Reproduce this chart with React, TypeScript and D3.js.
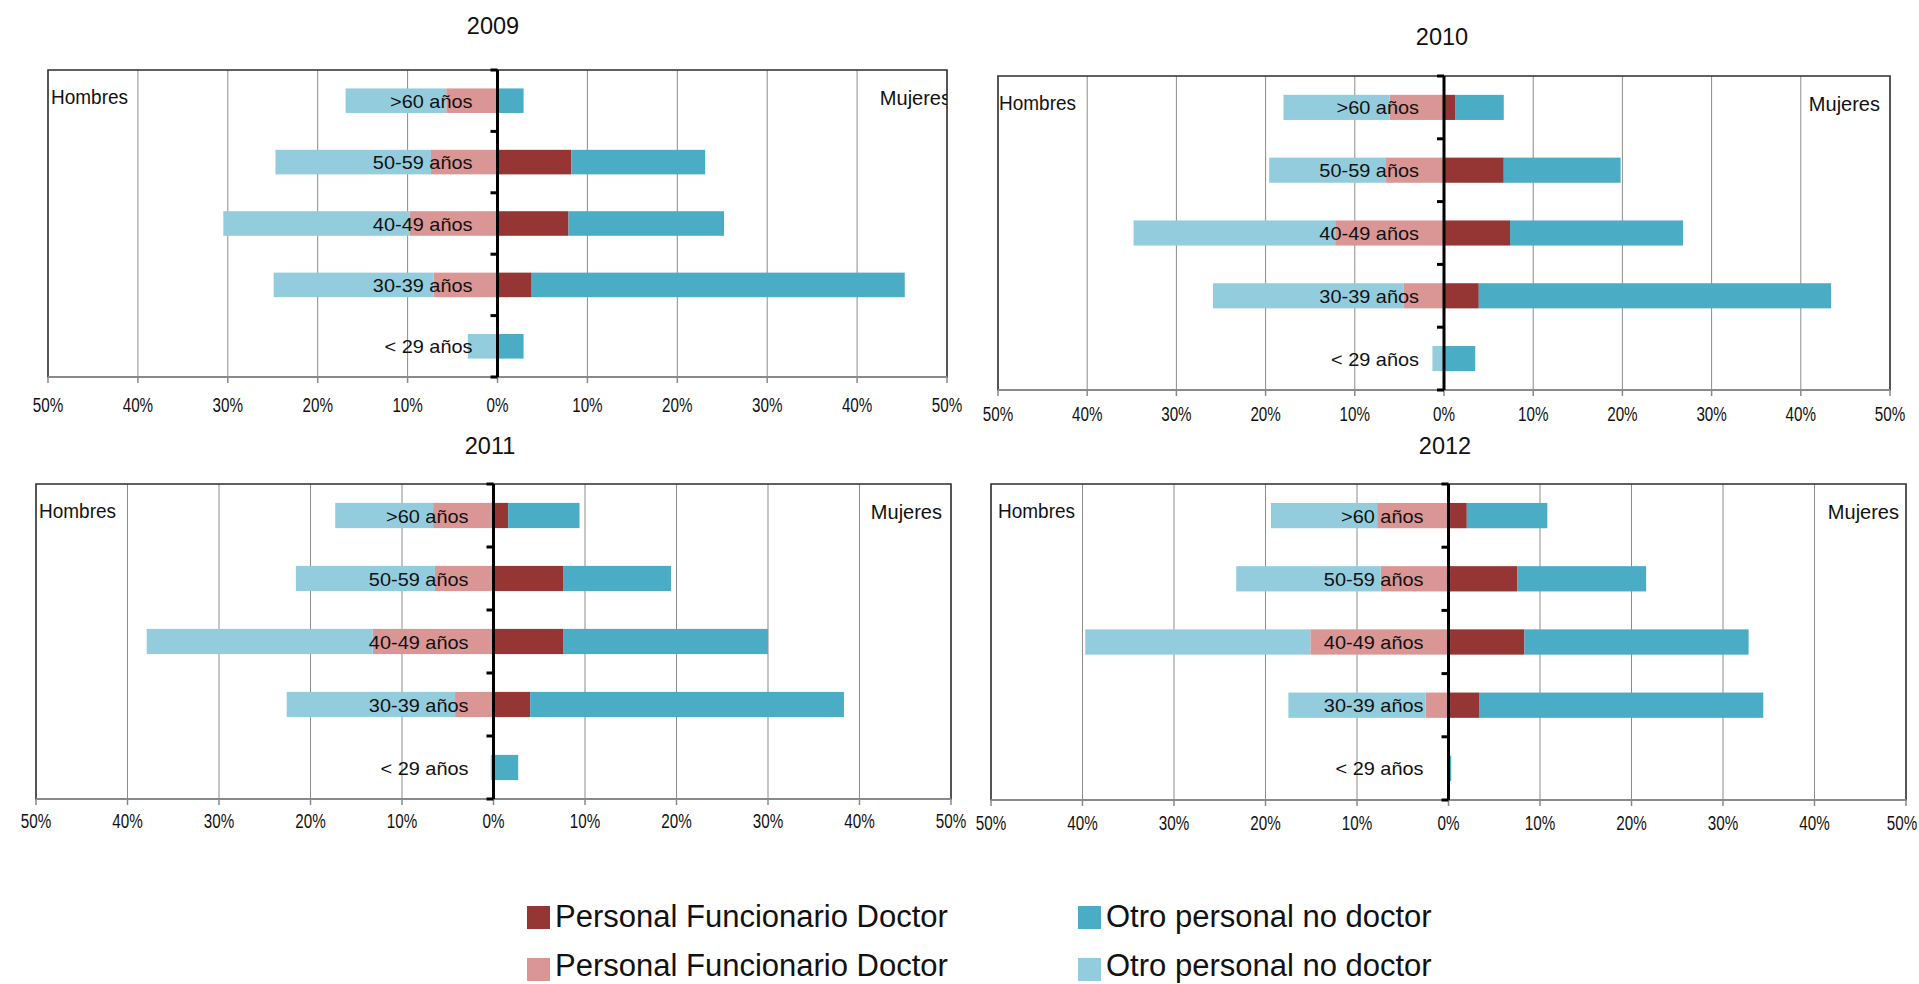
import React from 'react';
import * as d3 from 'd3';

// ---------- DATA ----------
const categories = ['>60 años', '50-59 años', '40-49 años', '30-39 años', '< 29 años'];
const years = ['2009', '2010', '2011', '2012'];
const tickValues = [-50, -40, -30, -20, -10, 0, 10, 20, 30, 40, 50];
const seriesNames = ['Personal Funcionario Doctor', 'Otro personal no doctor'];

// Hombres (left): doctor segment, then other segment stacked outward (%)
const menDoctor2009 = [5.7, 7.4, 9.8, 7.1, 0];
const menOther2009 = [11.2, 17.3, 20.7, 17.8, 3.3];
const womenDoctor2009 = [0, 8.2, 7.9, 3.8, 0];
const womenOther2009 = [2.9, 14.9, 17.3, 41.5, 2.9];

const menDoctor2010 = [6.1, 6.5, 12.2, 4.5, 0];
const menOther2010 = [11.9, 13.1, 22.6, 21.4, 1.3];
const womenDoctor2010 = [1.3, 6.7, 7.4, 3.9, 0];
const womenOther2010 = [5.4, 13.1, 19.4, 39.5, 3.5];

const menDoctor2011 = [6.6, 6.4, 13.2, 4.2, 0];
const menOther2011 = [10.7, 15.2, 24.7, 18.4, 0.3];
const womenDoctor2011 = [1.6, 7.6, 7.6, 4.0, 0];
const womenOther2011 = [7.8, 11.8, 22.4, 34.3, 2.7];

const menDoctor2012 = [7.8, 7.4, 15.1, 2.5, 0];
const menOther2012 = [11.6, 15.8, 24.6, 15.0, 0];
const womenDoctor2012 = [2.0, 7.5, 8.3, 3.4, 0];
const womenOther2012 = [8.8, 14.1, 24.5, 31.0, 0.3];

const yearData = [
  { men: [menDoctor2009, menOther2009], women: [womenDoctor2009, womenOther2009] },
  { men: [menDoctor2010, menOther2010], women: [womenDoctor2010, womenOther2010] },
  { men: [menDoctor2011, menOther2011], women: [womenDoctor2011, womenOther2011] },
  { men: [menDoctor2012, menOther2012], women: [womenDoctor2012, womenOther2012] },
];

// ---------- STYLE / LAYOUT ----------
const COLORS = {
  womenDoctor: '#963634',
  womenOther: '#4BACC6',
  menDoctor: '#DA9694',
  menOther: '#93CDDD',
};
const FONT = '"Liberation Sans", Arial, sans-serif';
const W = 1919;

const panels = [
  { left: 48, right: 947, top: 70, bottom: 377, titleX: 493, titleY: 34, tickY: 412, hombresDx: 3, mujeresDx: 4 },
  { left: 998, right: 1890, top: 76, bottom: 390, titleX: 1442, titleY: 45, tickY: 421, hombresDx: 1, mujeresDx: -10 },
  { left: 36, right: 951, top: 484, bottom: 799, titleX: 490, titleY: 454, tickY: 828, hombresDx: 3, mujeresDx: -9 },
  { left: 991, right: 1906, top: 484, bottom: 800, titleX: 1445, titleY: 454, tickY: 830, hombresDx: 7, mujeresDx: -7 },
];

function SText({ x, y, sx = 1, size, anchor = 'start', children }: any) {
  return (
    <text
      transform={`translate(${x},${y}) scale(${sx},1)`}
      fontFamily={FONT}
      fontSize={size}
      textAnchor={anchor}
      fill="#111"
    >
      {children}
    </text>
  );
}

function Panel({ idx }: { idx: number }) {
  const p = panels[idx];
  const d = yearData[idx];
  const x = d3.scaleLinear().domain([-50, 50]).range([p.left, p.right]);
  const y = d3
    .scaleBand<string>()
    .domain(categories)
    .range([p.top, p.bottom])
    .paddingInner(0.6)
    .paddingOuter(0.3);
  const band = (p.bottom - p.top) / categories.length;
  const x0 = x(0);

  const stackSide = (arr: number[][], sign: number) =>
    categories.map((c, i) => {
      let acc = 0;
      return arr.map((s, k) => {
        const a = acc;
        acc += s[i];
        return { cat: c, k, from: sign * a, to: sign * acc };
      });
    });
  const menSegs = stackSide(d.men, -1).flat();
  const womenSegs = stackSide(d.women, 1).flat();
  const clipId = `clip-${idx}`;
  const boundaries = d3.range(categories.length + 1).map((i) => p.top + i * band);
  const tickHalf = 16;

  return (
    <g>
      <defs>
        <clipPath id={clipId}>
          <rect x={p.left} y={p.top} width={p.right - p.left} height={p.bottom - p.top} />
        </clipPath>
      </defs>
      <rect x={p.left} y={p.top} width={p.right - p.left} height={p.bottom - p.top} fill="#fff" />
      {tickValues.map((t) => (
        <line key={t} x1={x(t)} x2={x(t)} y1={p.top} y2={p.bottom} stroke="#8c8c8c" strokeWidth={1} />
      ))}
      {menSegs.map((s, i) => (
        <rect
          key={'m' + i}
          x={x(Math.min(s.from, s.to))}
          y={y(s.cat)!}
          width={Math.abs(x(s.to) - x(s.from))}
          height={y.bandwidth()}
          fill={s.k === 0 ? COLORS.menDoctor : COLORS.menOther}
        />
      ))}
      {womenSegs.map((s, i) => (
        <rect
          key={'w' + i}
          x={x(Math.min(s.from, s.to))}
          y={y(s.cat)!}
          width={Math.abs(x(s.to) - x(s.from))}
          height={y.bandwidth()}
          fill={s.k === 0 ? COLORS.womenDoctor : COLORS.womenOther}
        />
      ))}
      <rect x={p.left} y={p.top} width={p.right - p.left} height={p.bottom - p.top} fill="none" stroke="#3a3a3a" strokeWidth={1.6} />
      <line x1={p.left} x2={p.right} y1={p.bottom} y2={p.bottom} stroke="#8a8a8a" strokeWidth={2} />
      {tickValues.map((t) => (
        <line key={'bt' + t} x1={x(t)} x2={x(t)} y1={p.bottom} y2={p.bottom + 6} stroke="#8a8a8a" strokeWidth={1.5} />
      ))}
      {tickValues.map((t) => (
        <SText key={'tl' + t} x={Math.min(x(t), W - tickHalf - 1)} y={p.tickY} size={19.5} sx={0.78} anchor="middle">
          {`${Math.abs(t)}%`}
        </SText>
      ))}
      {categories.map((c) => (
        <SText key={c} x={x0 - 25} y={y(c)! + y.bandwidth() / 2 + 7} size={18.8} sx={1.06} anchor="end">
          {c}
        </SText>
      ))}
      <line x1={x0} x2={x0} y1={p.top} y2={p.bottom} stroke="#000" strokeWidth={3} />
      {boundaries.map((b, i) => (
        <line key={'zt' + i} x1={x0 - 7} x2={x0} y1={b} y2={b} stroke="#000" strokeWidth={3} />
      ))}
      <SText x={p.left + p.hombresDx} y={p.top + 34} size={20} sx={0.95}>
        Hombres
      </SText>
      <g clipPath={`url(#${clipId})`}>
        <SText x={p.right + p.mujeresDx} y={p.top + 35} size={20} sx={1.0} anchor="end">
          Mujeres
        </SText>
      </g>
      <SText x={p.titleX} y={p.titleY} size={24} sx={0.98} anchor="middle">
        {years[idx]}
      </SText>
    </g>
  );
}

function Legend() {
  const items = [
    { label: seriesNames[0], color: COLORS.womenDoctor, x: 527, y: 906, ty: 927 },
    { label: seriesNames[1], color: COLORS.womenOther, x: 1078, y: 906, ty: 927 },
    { label: seriesNames[0], color: COLORS.menDoctor, x: 527, y: 958, ty: 976 },
    { label: seriesNames[1], color: COLORS.menOther, x: 1078, y: 958, ty: 976 },
  ];
  return (
    <g>
      {items.map((it, i) => (
        <g key={i}>
          <rect x={it.x} y={it.y} width={23} height={23} fill={it.color} />
          <SText x={it.x + 28} y={it.ty} size={31} sx={1.0}>
            {it.label}
          </SText>
        </g>
      ))}
    </g>
  );
}

export default function App() {
  return (
    <svg width={W} height={984} style={{ position: 'absolute', left: 0, top: 0, background: '#fff' }}>
      <rect x={0} y={0} width={W} height={984} fill="#fff" />
      {years.map((yr, i) => (
        <Panel key={yr} idx={i} />
      ))}
      <Legend />
    </svg>
  );
}
